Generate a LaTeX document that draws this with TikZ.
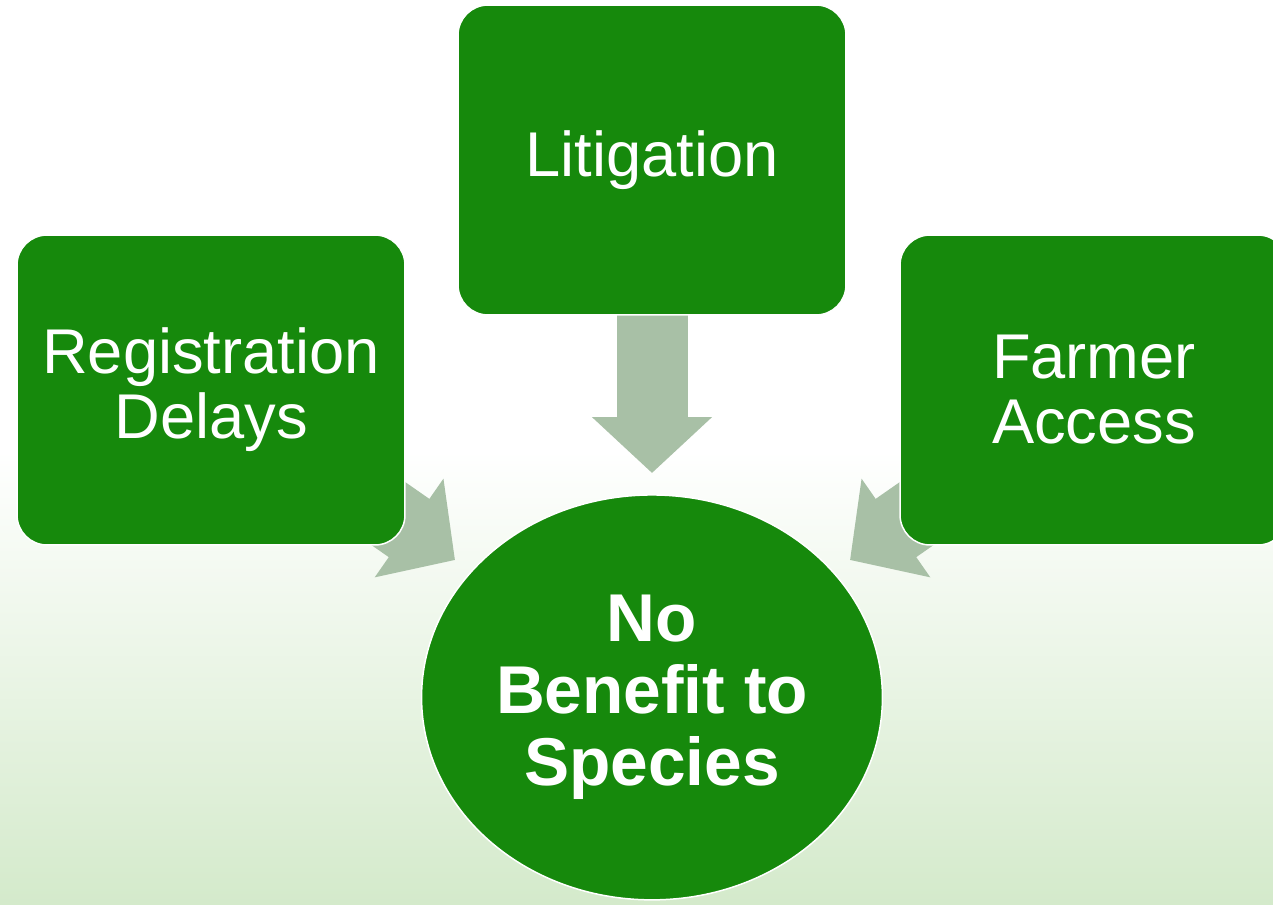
\documentclass[tikz,border=0pt]{standalone}
\usepackage{fontspec}
\setmainfont{Liberation Sans}
\usetikzlibrary{
  arrows.meta,
  positioning,
  shapes.geometric
}
\definecolor{leafgreen}{RGB}{22,137,12}
\definecolor{sagegray}{RGB}{168,192,166}
\definecolor{palegreen}{RGB}{212,234,203}
\pgfdeclarelayer{backdrop}
\pgfdeclarelayer{flows}
\pgfsetlayers{backdrop,flows,main}

\begin{document}
\begin{tikzpicture}[
            x=0.02cm, y=-0.02cm,
            box/.style={draw=white, line width=0.03cm, fill=leafgreen, text=white, rounded corners=0.6cm, minimum width=7.76cm, minimum height=6.2cm, align=center, font=\fontsize{36}{37}\selectfont},
            goal/.style={ellipse, draw=white, line width=0.03cm, fill=leafgreen, text=white, inner sep=0pt, outer sep=0pt, minimum width=9.22cm, minimum height=8.1cm, align=center, font=\fontsize{38.5}{41}\selectfont\bfseries},
            flow/.style={draw=sagegray, line width=1.42cm, -{Triangle[length=1.12cm, width=2.34cm]}}
        ]
            \useasboundingbox (0,0) rectangle (1273,904);
            % Backdrop: white fading into pale green
            \begin{pgfonlayer}{backdrop}
                \fill[white] (0,0) rectangle (1273,450);
                \shade[top color=white, bottom color=palegreen] (0,450) rectangle (1273,904);
            \end{pgfonlayer}
            % Litigation (top)
            \node[box, outer sep=0pt] (lit) at (652,160) {Litigation};
            % Registration Delays (left)
            \node[box] (reg) at (211,390) {Registration\\Delays};
            % Farmer Access (right, runs off the edge)
            \node[box] (farm) at (1094,390) {Farmer\\Access};
            % No Benefit to Species (goal)
            \node[goal, below=3.6cm of lit] (goal) {No\\Benefit to\\Species};
            % Arrow tips, just short of the goal
            \coordinate (tipL) at (455,560);
            \coordinate (tipM) at (652,473);
            \coordinate (tipR) at (850,560);
            % Block arrows sit behind the boxes
            \begin{pgfonlayer}{flows}
                \draw[flow] (reg.center) -- (tipL);
                \draw[flow] (lit.center) -- (tipM);
                \draw[flow] (farm.center) -- (tipR);
            \end{pgfonlayer}
        \end{tikzpicture}
\end{document}
